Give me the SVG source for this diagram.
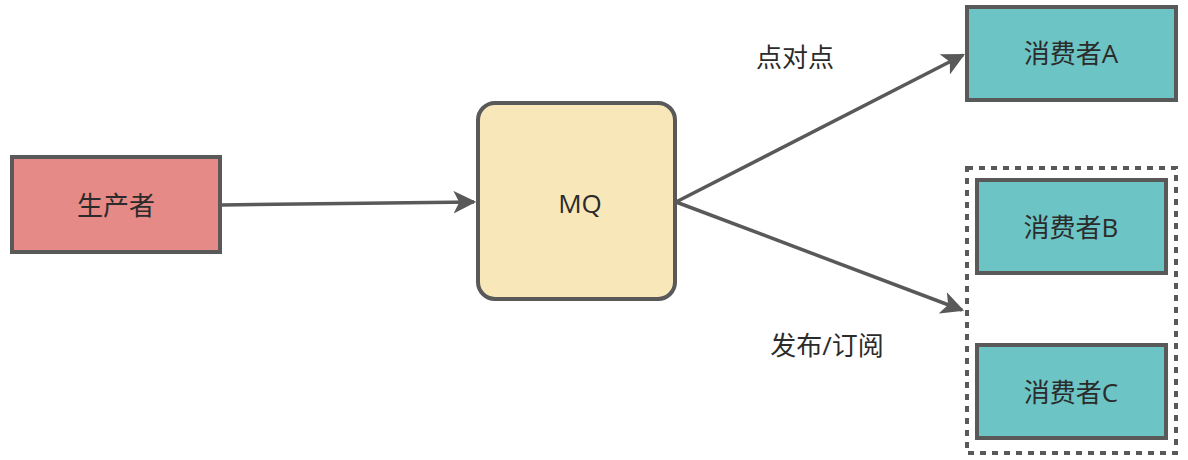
<svg xmlns="http://www.w3.org/2000/svg" width="1188" height="460" viewBox="0 0 1188 460">
<defs>
<marker id="arr" viewBox="0 0 10 10" refX="9" refY="5" markerWidth="6.5" markerHeight="6.5" markerUnits="strokeWidth" orient="auto">
<path d="M0,0 L10,5 L0,10 L2.5,5 Z" fill="#595959"/>
</marker>
<style>
.box{stroke:#595959;stroke-width:4}
.t{font-family:"Open Sans","Noto Sans CJK SC",sans-serif;font-size:26px;fill:#2b2b2b;text-anchor:middle;dominant-baseline:central}
.c{stroke:#595959;stroke-width:3.5;fill:none;marker-end:url(#arr)}
</style>
</defs>
<rect width="1188" height="460" fill="#fff"/>
<g id="connectors">
<line class="c" x1="221" y1="205" x2="474" y2="202"/>
<line class="c" x1="676" y1="202" x2="963" y2="55"/>
<line class="c" x1="676" y1="202" x2="962" y2="310"/>
</g>
<g id="producer">
<rect class="box" x="12" y="157" width="208" height="95" fill="#e58a86"/>
<text class="t" x="116" y="205">生产者</text>
</g>
<g id="mq">
<rect class="box" x="478" y="103" width="197" height="196" rx="17" fill="#f8e7b9"/>
<text class="t" x="580" y="203">MQ</text>
</g>
<g id="consumerA">
<rect class="box" x="967" y="7" width="209" height="93" fill="#6cc4c4"/>
<text class="t" x="1071" y="53">消费者A</text>
</g>
<g id="group">
<rect x="967" y="168" width="209" height="285" fill="none" stroke="#595959" stroke-width="4" stroke-dasharray="6 6"/>
</g>
<g id="consumerB">
<rect class="box" x="977" y="180" width="189" height="93" fill="#6cc4c4"/>
<text class="t" x="1071" y="227">消费者B</text>
</g>
<g id="consumerC">
<rect class="box" x="977" y="345" width="189" height="93" fill="#6cc4c4"/>
<text class="t" x="1071" y="392">消费者C</text>
</g>
<g id="labels">
<text class="t" x="795" y="57">点对点</text>
<text class="t" x="827" y="345">发布/订阅</text>
</g>
</svg>
